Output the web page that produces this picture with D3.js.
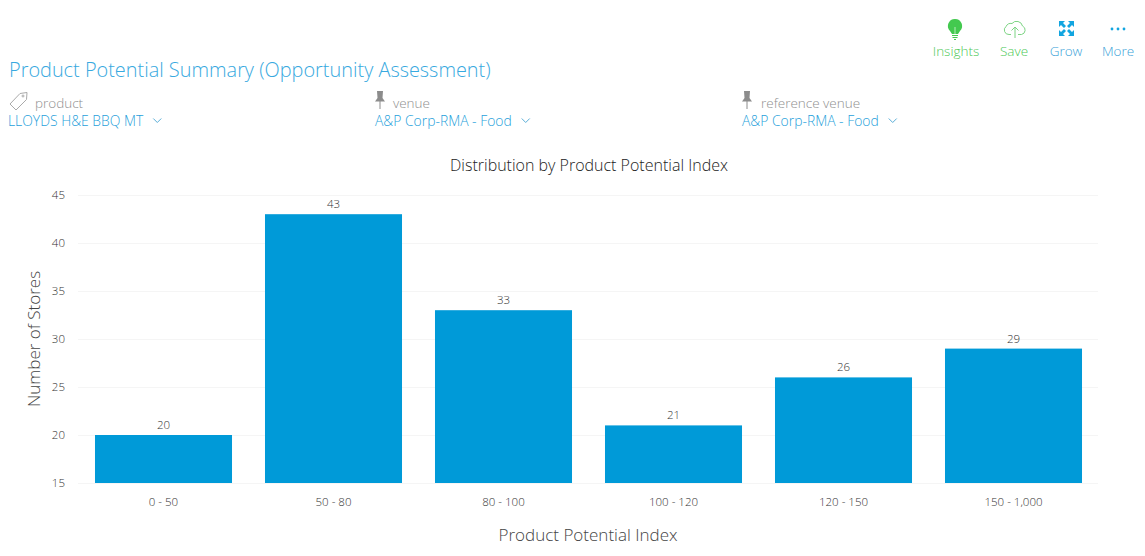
<!DOCTYPE html>
<html>
<head>
<meta charset="utf-8">
<script src="https://cdn.jsdelivr.net/npm/d3@7"></script>
<style>
    html, body { margin: 0; padding: 0; background: #fff; }
    text { font-family: "Open Sans", Lato, sans-serif; font-weight: 300; }
</style>
</head>
<body>
<div id="chart"></div>
<script>
const categories = ["0 - 50", "50 - 80", "80 - 100", "100 - 120", "120 - 150", "150 - 1,000"];
const stores = [20, 43, 33, 21, 26, 29];
const yTicks = [15, 20, 25, 30, 35, 40, 45];
const toolbarLabels = ["Insights", "Save", "Grow", "More"];
const selectorLabels = ["product", "venue", "reference venue"];
const selectorValues = ["LLOYDS H&E BBQ MT", "A&P Corp-RMA - Food", "A&P Corp-RMA - Food"];

const width = 1145, height = 556;
const blue = "#009ad8", linkBlue = "#1f9fdb", green = "#4ec957", grey = "#8f8f8f", dark = "#333";

let svg = d3.select("#chart").append("svg")
    .attr("width", width)
    .attr("height", height)
    .style("display", "block");

// header
svg.append("text")
    .attr("x", 9).attr("y", 77)
    .style("font-size", "19.9px")
    .style("fill", "#38a9e0")
    .text("Product Potential Summary (Opportunity Assessment)");

// selectors
let selectorX = [8, 375, 742];
let labelX = [35, 393, 761];
selectorLabels.forEach(function (d, i) {
    svg.append("text")
        .attr("x", labelX[i]).attr("y", 108)
        .style("font-size", "13.5px")
        .style("fill", grey)
        .text(d);
    let value = svg.append("text")
        .attr("x", selectorX[i]).attr("y", 126)
        .style("font-size", "13.9px")
        .style("fill", linkBlue)
        .text(selectorValues[i]);
    // chevron sits just after the value
    let end = selectorX[i] + value.node().getComputedTextLength() + 10;
    svg.append("path")
        .attr("d", "M" + end + " 118.5l4 4l4 -4")
        .attr("fill", "none")
        .attr("stroke", "#5aaed8")
        .attr("stroke-width", 1);
});

// tag icon
svg.append("path")
    .attr("d", "M10 104L20 93.5L27 92.5L26.5 99.5L16 110Z")
    .attr("fill", "none")
    .attr("stroke", "#aaa")
    .attr("stroke-width", 1);
svg.append("circle").attr("cx", 23).attr("cy", 96).attr("r", 1).attr("fill", "none").attr("stroke", "#aaa");

// pin icons
[380, 747].forEach(function (x) {
    svg.append("path")
        .attr("d", "M" + (x - 3) + " 91h6l-0.5 7l2.5 3.5h-10l2.5 -3.5z")
        .attr("fill", "#8c8c8c");
    svg.append("line")
        .attr("x1", x).attr("x2", x)
        .attr("y1", 101).attr("y2", 109)
        .attr("stroke", "#8c8c8c");
});

// toolbar
let toolbarX = [956, 1014, 1066, 1118];
toolbarLabels.forEach(function (d, i) {
    svg.append("text")
        .attr("x", toolbarX[i]).attr("y", 56)
        .style("text-anchor", "middle")
        .style("font-size", "13.5px")
        .style("fill", i < 2 ? green : "#3a9fd8")
        .text(d);
});

// insights bulb
svg.append("path")
    .attr("d", "M955 19a7 7 0 0 1 5 12l-2 3h-6l-2 -3a7 7 0 0 1 5 -12z")
    .attr("fill", "#43c94f");
svg.append("path")
    .attr("d", "M952 35.5h6M952.5 37.5h5M954 39.5h2")
    .attr("stroke", "#43c94f")
    .attr("stroke-width", 1);
svg.append("path")
    .attr("d", "M955 34v-7")
    .attr("stroke", "#b5ecb8")
    .attr("stroke-width", 1);

// save cloud
svg.append("path")
    .attr("d", "M1011 34.5h-2a4.5 4.5 0 0 1 -3 -8a5.5 5.5 0 0 1 6 -3a6 6 0 0 1 10.500 2.500a4.500 4.500 0 0 1 -1 8.500h-3.500")
    .attr("fill", "none")
    .attr("stroke", "#7dd484");
svg.append("path")
    .attr("d", "M1015 38v-11M1011.500 30.500l3.500 -3.500l3.500 3.500")
    .attr("fill", "none")
    .attr("stroke", "#7dd484");

// grow arrows
[[1059, 21, 1, 1], [1074, 21, -1, 1], [1059, 36, 1, -1], [1074, 36, -1, -1]].forEach(function (c) {
    let x = c[0], y = c[1], sx = c[2], sy = c[3];
    svg.append("path")
        .attr("d", "M" + x + " " + y + "h" + (6 * sx) + "l" + (-2 * sx) + " " + (2 * sy) +
            "l" + (3 * sx) + " " + (3 * sy) + "l" + (-2 * sx) + " " + (2 * sy) +
            "l" + (-3 * sx) + " " + (-3 * sy) + "l" + (-2 * sx) + " " + (2 * sy) + "z")
        .attr("fill", "#12a5e0");
});

// more dots
[1112, 1118, 1124].forEach(function (x) {
    svg.append("circle").attr("cx", x).attr("cy", 29).attr("r", 1.4).attr("fill", "#12a5e0");
});

// chart
let x = d3.scaleBand().domain(categories).range([78.5, 1098.5]).paddingInner(0.194).paddingOuter(0.097);
let y = d3.scaleLinear().domain([15, 45]).range([483, 195]);

svg.append("text")
    .attr("x", 589).attr("y", 171)
    .style("text-anchor", "middle")
    .style("font-size", "16px")
    .style("fill", "#222")
    .text("Distribution by Product Potential Index");

let yAxis = svg.append("g")
    .attr("transform", "translate(78, 0)")
    .call(d3.axisLeft(y).tickValues(yTicks).tickSize(-1020).tickPadding(13));
yAxis.select(".domain").remove();
yAxis.selectAll("line").attr("stroke", "#f5f5f5");
yAxis.selectAll("text").style("font-size", "11.5px").style("fill", dark);

let xAxis = svg.append("g")
    .attr("transform", "translate(0, 483)")
    .call(d3.axisBottom(x).tickSize(0).tickPadding(15));
xAxis.select(".domain").remove();
xAxis.selectAll("text").style("font-size", "11.5px").style("fill", dark);

svg.append("g").selectAll("rect")
    .data(stores)
    .enter()
    .append("rect")
    .attr("x", function (d, i) { return x(categories[i]); })
    .attr("y", function (d) { return y(d); })
    .attr("width", x.bandwidth())
    .attr("height", function (d) { return y(15) - y(d); })
    .style("fill", blue);

svg.append("g").selectAll("text")
    .data(stores)
    .enter()
    .append("text")
    .attr("x", function (d, i) { return x(categories[i]) + x.bandwidth() / 2; })
    .attr("y", function (d) { return y(d) - 6; })
    .style("text-anchor", "middle")
    .style("font-size", "11.5px")
    .style("fill", dark)
    .text(function (d) { return d; });

// axis titles
svg.append("text")
    .attr("transform", "translate(40, 339) rotate(-90)")
    .style("text-anchor", "middle")
    .style("font-size", "17px")
    .style("fill", "#444")
    .text("Number of Stores");
svg.append("text")
    .attr("x", 588).attr("y", 541)
    .style("text-anchor", "middle")
    .style("font-size", "17px")
    .style("fill", "#444")
    .text("Product Potential Index");
</script>
</body>
</html>
